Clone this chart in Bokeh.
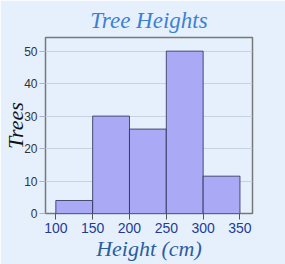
from bokeh.plotting import figure
from bokeh.embed import file_html
from bokeh.resources import INLINE
from bokeh.models import Range1d, FixedTicker

bin_left = [100, 150, 200, 250, 300]
bin_right = [150, 200, 250, 300, 350]
counts = [4, 30, 26, 50, 11.5]
x_ticks = [100, 150, 200, 250, 300, 350]
y_ticks = [0, 10, 20, 30, 40, 50]

p = figure(width=285, height=264, output_backend="svg", toolbar_location=None,
           x_range=Range1d(86, 367), y_range=Range1d(0, 54.2),
           min_border_left=10, min_border_right=33, min_border_top=37, min_border_bottom=51)

bg = "#e6f0fd"
p.background_fill_color = bg
p.border_fill_color = bg
p.outline_line_color = "#777777"
p.outline_line_width = 1.5

p.title.text = "Tree Heights"
p.title.align = "center"
p.title.text_font = "Liberation Serif"
p.title.text_font_style = "italic"
p.title.text_font_size = "23px"
p.title.text_color = "#3c7fd6"
p.title.offset = -3

p.quad(left=bin_left, right=bin_right, top=counts, bottom=0,
       fill_color="#a9a9f6", line_color="#2a2a50", line_width=1, line_alpha=0.8)

p.xgrid.grid_line_color = None
p.ygrid.grid_line_color = "#c5d2e2"
p.ygrid.ticker = FixedTicker(ticks=y_ticks)

p.xaxis.ticker = FixedTicker(ticks=x_ticks)
p.yaxis.ticker = FixedTicker(ticks=y_ticks)
p.xaxis.minor_tick_line_color = None
p.yaxis.minor_tick_line_color = None
p.xaxis.axis_line_color = None
p.yaxis.axis_line_color = None
p.xaxis.major_tick_line_color = "#555555"
p.yaxis.major_tick_line_color = "#aab4c2"
p.xaxis.major_tick_in = 0
p.yaxis.major_tick_in = 0
p.xaxis.major_tick_out = 6
p.yaxis.major_tick_out = 6
p.xaxis.major_label_standoff = 3
p.yaxis.major_label_standoff = 2

p.xaxis.major_label_text_font = "Liberation Sans"
p.xaxis.major_label_text_font_size = "14px"
p.xaxis.major_label_text_color = "#1e3c96"
p.yaxis.major_label_text_font = "Liberation Sans"
p.yaxis.major_label_text_font_size = "12px"
p.yaxis.major_label_text_color = "#333333"

p.xaxis.axis_label = "Height (cm)"
p.xaxis.axis_label_text_font = "Liberation Serif"
p.xaxis.axis_label_text_font_style = "italic"
p.xaxis.axis_label_text_font_size = "22px"
p.xaxis.axis_label_text_color = "#2c5e9c"
p.xaxis.axis_label_standoff = 0

p.yaxis.axis_label = "Trees"
p.yaxis.axis_label_text_font = "Liberation Serif"
p.yaxis.axis_label_text_font_style = "italic"
p.yaxis.axis_label_text_font_size = "22px"
p.yaxis.axis_label_text_color = "#111111"
p.yaxis.axis_label_standoff = -7

open("out.html", "w").write(file_html(p, INLINE))
